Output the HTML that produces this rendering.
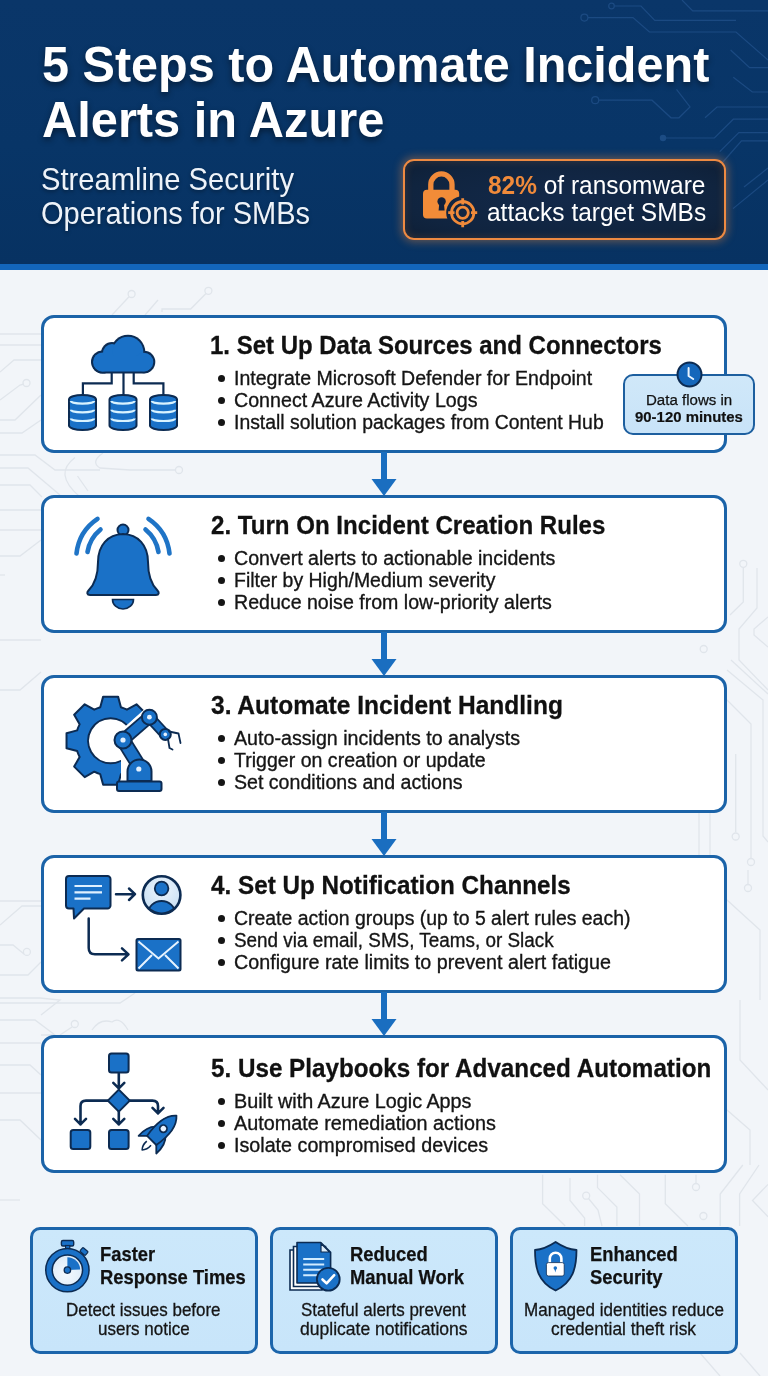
<!DOCTYPE html>
<html><head><meta charset="utf-8"><style>
html,body{margin:0;padding:0;}
body{width:768px;height:1376px;position:relative;overflow:hidden;background:#f2f5f9;font-family:"Liberation Sans", sans-serif;}
.t{position:absolute;line-height:0;white-space:nowrap;transform-origin:0 0;}
.abs{position:absolute;}
#hdr{position:absolute;left:0;top:0;width:768px;height:264px;background:linear-gradient(180deg,#0a3669 0%,#083567 55%,#073262 100%);}
#stripe{position:absolute;left:0;top:264px;width:768px;height:6px;background:#1366bb;}
.card{position:absolute;left:41px;width:680px;border:3px solid #1b63a8;border-radius:13px;background:#fff;}
.shaft{position:absolute;left:381px;width:6px;background:#1a6ec0;}
.dot{position:absolute;width:7px;height:7px;border-radius:50%;background:#151515;}
#badge{position:absolute;left:623px;top:374px;width:128px;height:56.5px;border:2.5px solid #1d5f9f;border-radius:10px;background:linear-gradient(180deg,#d0e8f9,#c8e3f8);}
.bcard{position:absolute;top:1227px;width:222px;height:120.5px;border:3px solid #1c65ab;border-radius:10px;background:linear-gradient(180deg,#cce8fb,#c8e5fa);}
#callout{position:absolute;left:403px;top:159px;width:318.5px;height:76.5px;border:2.6px solid #ee8a42;border-radius:11px;background:radial-gradient(ellipse at 50% 50%,#13294a 0%,#10243f 70%,#0e1f36 100%);box-shadow:0 0 9px 2px rgba(240,138,58,.4), inset 0 0 8px rgba(240,138,58,.2);}
</style></head><body>
<div id="hdr"></div><div id="stripe"></div>
<svg class="abs" style="left:0;top:0" width="768" height="264" viewBox="0 0 768 264">
<g fill="none" stroke="#2a5b98" stroke-width="1.2" opacity="0.55">
<circle cx="611.5" cy="6" r="2.8"/><path d="M614.3 6 H641 L654.8 20.3 H736"/>
<circle cx="584.4" cy="17.6" r="3.5"/><path d="M588 17.6 H633 L649.4 32 H736 L768 60"/>
<path d="M682 0 L692.7 10.8 H768"/>
<path d="M730.6 50 L749.6 67.7 H768"/>
<path d="M733.3 77.2 L752.3 92 H768"/>
<circle cx="595.2" cy="100.2" r="3.5"/><path d="M598.7 100.2 H652 L671 117.8 H679 L690 107 L676.5 89.4"/>
<path d="M705 117.8 L717 107 H768"/>
<path d="M666 138 H714.4 L733.3 119.2 H768"/>
<path d="M719.8 151.7 L738.8 132.7 H768"/>
<path d="M722.5 162.5 L741.5 140.8 H768"/>
<path d="M744 187 L768 168"/>
<path d="M733 208.6 L768 180"/>
</g>
<circle cx="663" cy="138" r="3.2" fill="#2a5b98" opacity="0.6"/>
</svg>
<div class="t" style="left:42.04px;top:64.88px;font-size:49.42px;font-weight:700;color:#fff;transform:scaleX(0.9829);text-shadow:0 3px 6px rgba(0,0,0,.45);">5 Steps to Automate Incident</div>
<div class="t" style="left:41.54px;top:119.68px;font-size:49.42px;font-weight:700;color:#fff;transform:scaleX(0.9870);text-shadow:0 3px 6px rgba(0,0,0,.45);">Alerts in Azure</div>
<div class="t" style="left:41.44px;top:178.92px;font-size:30.52px;font-weight:400;color:#eef3f9;transform:scaleX(0.9562);text-shadow:0 2px 4px rgba(0,0,0,.35);">Streamline Security</div>
<div class="t" style="left:41.05px;top:212.62px;font-size:30.52px;font-weight:400;color:#eef3f9;transform:scaleX(0.9500);text-shadow:0 2px 4px rgba(0,0,0,.35);">Operations for SMBs</div>
<div id="callout"></div>
<svg class="abs" style="left:400px;top:150px" width="90" height="100" viewBox="400 150 90 100">
<defs><mask id="lm"><rect x="400" y="150" width="90" height="100" fill="#fff"/><circle cx="462.7" cy="212.7" r="16.5" fill="#000"/></mask></defs>
<g mask="url(#lm)">
<path d="M430.8 190 V184.5 A10.6 10.6 0 0 1 452 184.5 V190" fill="none" stroke="#f08a3a" stroke-width="5.3"/>
<rect x="423" y="189.8" width="36.2" height="28.8" rx="4" fill="#f28c38"/>
<circle cx="441.6" cy="201.5" r="4.2" fill="#10203c"/>
<path d="M439.4 202 L438.6 210.5 H444.6 L443.8 202 Z" fill="#10203c"/>
</g>
<g fill="none" stroke="#f08a3a" stroke-width="2.8">
<circle cx="462.7" cy="212.7" r="11.2"/>
<circle cx="462.7" cy="212.7" r="5.6"/>
<path d="M462.7 198.2 V204.5 M462.7 221 V227.2 M448.2 212.7 H454.5 M471 212.7 H477.2"/>
</g>
</svg>
<div class="t" style="left:488.17px;top:184.93px;font-size:26.16px;color:#fff;transform:scaleX(0.9346)"><b style="color:#f08a3a">82%</b> of ransomware</div>
<div class="t" style="left:487.32px;top:212.43px;font-size:26.16px;font-weight:400;color:#fff;transform:scaleX(0.9364);">attacks target SMBs</div>
<svg class="abs" style="left:0;top:270px" width="768" height="1106" viewBox="0 270 768 1106">
<g fill="none" stroke="#e0e5eb" stroke-width="1.3">
<!-- left margin -->
<path d="M0 334 H41"/><path d="M0 345 H41"/>
<path d="M0 372 L14 360 H41"/><path d="M0 400 L20 385 L24 384"/><circle cx="26.5" cy="383" r="3.5"/>
<path d="M0 420 H15 L41 395"/><path d="M0 433 H22 L41 420"/>
<path d="M0 455 H35 L55 470 H100"/><path d="M0 468 H28 L60 495"/>
<path d="M0 485 H30 L42 497"/>
<path d="M0 510 H48 L75 530"/><path d="M0 530 H41"/><path d="M0 556 H20 L41 540"/>
<path d="M0 575 H5"/>
<path d="M0 640 H41"/><path d="M0 690 H20 L41 672"/>
<path d="M0 901 H41"/><path d="M0 925 L22 906 H41"/>
<path d="M0 945 L13 945 L24 954"/><circle cx="26.9" cy="951.9" r="3.5"/>
<path d="M0 975 H28 L41 962"/><path d="M0 998 H40 L60 1000 L41 1015"/>
<path d="M0 1003 H120 L135 993"/><path d="M0 1020 H35 L55 1035 H41"/>
<circle cx="74.8" cy="1024" r="3.5"/><path d="M72 1027 L60 1035"/>
<path d="M92 1030 Q100 1018 112 1022 Q120 1016 128 1030"/>
<path d="M0 1043 H41"/><path d="M0 1065 H30 L41 1075"/><path d="M0 1093 H41"/>
<path d="M0 1120 H20 L41 1140"/><path 
d="M0 1200 H20"/>
<!-- top gap -->
<circle cx="131.6" cy="294" r="3.5"/><path d="M129 296.8 L112 315"/>
<path d="M158 300 L145 315"/>
<path d="M162 312 V309 H190.7 L206 293.5"/><circle cx="208.4" cy="290.8" r="3.5"/>
<!-- gap 1-2 -->
<path d="M75 457.5 Q64 466 65 475 Q66 485 80 497"/>
<path d="M103 453 Q90 462 100 468 L130 470 H175.5"/><circle cx="179" cy="470" r="3.5"/>
<path d="M77.5 476 L88 491"/>
<!-- right margin -->
<path d="M743.3 568 V602 L730 615"/><circle cx="743.3" cy="563.8" r="3.5"/>
<path d="M757 568 V608 L739 629 V660 L768 690"/>
<path d="M768 617 L754 629 V635 L768 647"/>
<path d="M731 660 L768 694"/><path d="M727 670 L763 700 V836 L768 842"/>
<path d="M727 700 L751 724 V858"/><circle cx="751" cy="862" r="3.5"/>
<path d="M735.7 754 V832"/><circle cx="735.7" cy="836.5" r="3.5"/>
<circle cx="703.7" cy="649" r="3.5"/>
<path d="M699 812 V855"/><path d="M710 812 V855"/>
<path d="M748 870 V884"/><circle cx="748" cy="888" r="3.5"/>
<path d="M727 900 L760 930 V1000"/><path d="M740 1000 V1060 L768 1090"/>
<path d="M542.6 1174.7 V1203.7 L565.2 1226"/>
<path d="M570 1178 V1200.5 L584.6 1218 V1226"/>
<circle cx="586.2" cy="1195.7" r="3.5"/><path d="M588.5 1198.5 L598 1210 L602 1226"/>
<path d="M597.5 1174.7 V1187.6 L616.9 1207 V1226"/>
<path d="M620 1174.7 L639.5 1194 V1226"/>
<path d="M665.3 1174.7 V1203.7 L687.9 1226"/>
<path d="M696 1174.7 V1183.5"/><circle cx="696" cy="1187" r="3.5"/>
<circle cx="703.4" cy="1216" r="3.5"/>
<path d="M742.8 1165 L720.2 1194 V1226"/>
<path d="M759 1165 L739.6 1194 V1226"/>
<path d="M768 1184.4 L752.5 1200.5 L768 1216.7"/>
<path d="M727 1110 L750 1130 V1165"/>
<!-- bottom right -->
<path d="M700 1353 L720 1376"/><path d="M740 1353 L760 1376"/>
</g>
</svg>

<div class="card" style="top:315px;height:131.5px"></div>
<div class="shaft" style="top:451.5px;height:28.5px"></div>
<svg class="abs" style="left:371px;top:478.5px" width="26" height="17" viewBox="0 0 26 17"><path d="M0.5 0 H25.5 L13 17 Z" fill="#1a6ec0"/></svg>
<div class="t" style="left:210.26px;top:345.23px;font-size:26.45px;font-weight:700;color:#111;transform:scaleX(0.9073);-webkit-text-stroke:0.3px #111;">1. Set Up Data Sources and Connectors</div>
<div class="dot" style="left:218.4px;top:374.79999999999995px"></div>
<div class="t" style="left:233.96px;top:377.70px;font-size:20.79px;font-weight:400;color:#151515;transform:scaleX(0.9395);-webkit-text-stroke:0.35px #151515;">Integrate Microsoft Defender for Endpoint</div>
<div class="dot" style="left:218.4px;top:396.94999999999993px"></div>
<div class="t" style="left:233.96px;top:399.85px;font-size:20.79px;font-weight:400;color:#151515;transform:scaleX(0.9453);-webkit-text-stroke:0.35px #151515;">Connect Azure Activity Logs</div>
<div class="dot" style="left:218.4px;top:419.09999999999997px"></div>
<div class="t" style="left:233.96px;top:422.00px;font-size:20.79px;font-weight:400;color:#151515;transform:scaleX(0.9330);-webkit-text-stroke:0.35px #151515;">Install solution packages from Content Hub</div>
<div class="card" style="top:495px;height:131.5px"></div>
<div class="shaft" style="top:631.5px;height:28.5px"></div>
<svg class="abs" style="left:371px;top:658.5px" width="26" height="17" viewBox="0 0 26 17"><path d="M0.5 0 H25.5 L13 17 Z" fill="#1a6ec0"/></svg>
<div class="t" style="left:210.98px;top:525.23px;font-size:26.45px;font-weight:700;color:#111;transform:scaleX(0.9112);-webkit-text-stroke:0.3px #111;">2. Turn On Incident Creation Rules</div>
<div class="dot" style="left:218.4px;top:554.8px"></div>
<div class="t" style="left:233.96px;top:557.70px;font-size:20.79px;font-weight:400;color:#151515;transform:scaleX(0.9429);-webkit-text-stroke:0.35px #151515;">Convert alerts to actionable incidents</div>
<div class="dot" style="left:218.4px;top:576.9499999999999px"></div>
<div class="t" style="left:233.96px;top:579.85px;font-size:20.79px;font-weight:400;color:#151515;transform:scaleX(0.9355);-webkit-text-stroke:0.35px #151515;">Filter by High/Medium severity</div>
<div class="dot" style="left:218.4px;top:599.0999999999999px"></div>
<div class="t" style="left:233.96px;top:602.00px;font-size:20.79px;font-weight:400;color:#151515;transform:scaleX(0.9427);-webkit-text-stroke:0.35px #151515;">Reduce noise from low-priority alerts</div>
<div class="card" style="top:675px;height:131.5px"></div>
<div class="shaft" style="top:811.5px;height:28.5px"></div>
<svg class="abs" style="left:371px;top:838.5px" width="26" height="17" viewBox="0 0 26 17"><path d="M0.5 0 H25.5 L13 17 Z" fill="#1a6ec0"/></svg>
<div class="t" style="left:211.21px;top:705.23px;font-size:26.45px;font-weight:700;color:#111;transform:scaleX(0.9273);-webkit-text-stroke:0.3px #111;">3. Automate Incident Handling</div>
<div class="dot" style="left:218.4px;top:734.8px"></div>
<div class="t" style="left:233.96px;top:737.70px;font-size:20.79px;font-weight:400;color:#151515;transform:scaleX(0.9455);-webkit-text-stroke:0.35px #151515;">Auto-assign incidents to analysts</div>
<div class="dot" style="left:218.4px;top:756.9499999999999px"></div>
<div class="t" style="left:233.96px;top:759.85px;font-size:20.79px;font-weight:400;color:#151515;transform:scaleX(0.9413);-webkit-text-stroke:0.35px #151515;">Trigger on creation or update</div>
<div class="dot" style="left:218.4px;top:779.0999999999999px"></div>
<div class="t" style="left:233.96px;top:782.00px;font-size:20.79px;font-weight:400;color:#151515;transform:scaleX(0.9421);-webkit-text-stroke:0.35px #151515;">Set conditions and actions</div>
<div class="card" style="top:855px;height:131.5px"></div>
<div class="shaft" style="top:991.5px;height:28.5px"></div>
<svg class="abs" style="left:371px;top:1018.5px" width="26" height="17" viewBox="0 0 26 17"><path d="M0.5 0 H25.5 L13 17 Z" fill="#1a6ec0"/></svg>
<div class="t" style="left:211.46px;top:885.23px;font-size:26.45px;font-weight:700;color:#111;transform:scaleX(0.9173);-webkit-text-stroke:0.3px #111;">4. Set Up Notification Channels</div>
<div class="dot" style="left:218.4px;top:914.8px"></div>
<div class="t" style="left:233.96px;top:917.70px;font-size:20.79px;font-weight:400;color:#151515;transform:scaleX(0.9351);-webkit-text-stroke:0.35px #151515;">Create action groups (up to 5 alert rules each)</div>
<div class="dot" style="left:218.4px;top:936.9499999999999px"></div>
<div class="t" style="left:233.96px;top:939.85px;font-size:20.79px;font-weight:400;color:#151515;transform:scaleX(0.9083);-webkit-text-stroke:0.35px #151515;">Send via email, SMS, Teams, or Slack</div>
<div class="dot" style="left:218.4px;top:959.0999999999999px"></div>
<div class="t" style="left:233.96px;top:962.00px;font-size:20.79px;font-weight:400;color:#151515;transform:scaleX(0.9487);-webkit-text-stroke:0.35px #151515;">Configure rate limits to prevent alert fatigue</div>
<div class="card" style="top:1035px;height:131.5px"></div>
<div class="t" style="left:210.97px;top:1068.03px;font-size:26.45px;font-weight:700;color:#111;transform:scaleX(0.9162);-webkit-text-stroke:0.3px #111;">5. Use Playbooks for Advanced Automation</div>
<div class="dot" style="left:218.4px;top:1097.6000000000001px"></div>
<div class="t" style="left:233.96px;top:1100.50px;font-size:20.79px;font-weight:400;color:#151515;transform:scaleX(0.9519);-webkit-text-stroke:0.35px #151515;">Built with Azure Logic Apps</div>
<div class="dot" style="left:218.4px;top:1119.7500000000002px"></div>
<div class="t" style="left:233.96px;top:1122.65px;font-size:20.79px;font-weight:400;color:#151515;transform:scaleX(0.9522);-webkit-text-stroke:0.35px #151515;">Automate remediation actions</div>
<div class="dot" style="left:218.4px;top:1141.9px"></div>
<div class="t" style="left:233.96px;top:1144.80px;font-size:20.79px;font-weight:400;color:#151515;transform:scaleX(0.9481);-webkit-text-stroke:0.35px #151515;">Isolate compromised devices</div>
<div id="badge"></div>
<div class="t" style="left:645.80px;top:399.66px;font-size:14.83px;font-weight:400;color:#111;transform:scaleX(1.0154);-webkit-text-stroke:0.25px #111;">Data flows in</div>
<div class="t" style="left:635.35px;top:416.76px;font-size:15.12px;font-weight:700;color:#111;transform:scaleX(0.9886);-webkit-text-stroke:0.2px #111;">90-120 minutes</div>
<div class="bcard" style="left:30px"></div>
<div class="bcard" style="left:270px"></div>
<div class="bcard" style="left:510px"></div>
<div class="t" style="left:99.51px;top:1276.95px;font-size:19.62px;font-weight:700;color:#111;transform:scaleX(0.9371);-webkit-text-stroke:0.25px #111;">Response Times</div>
<div class="t" style="left:99.51px;top:1254.00px;font-size:19.62px;font-weight:700;color:#111;transform:scaleX(0.9371);-webkit-text-stroke:0.25px #111;">Faster</div>
<div class="t" style="left:349.71px;top:1254.00px;font-size:19.62px;font-weight:700;color:#111;transform:scaleX(0.9371);-webkit-text-stroke:0.25px #111;">Reduced</div>
<div class="t" style="left:349.71px;top:1276.95px;font-size:19.62px;font-weight:700;color:#111;transform:scaleX(0.9371);-webkit-text-stroke:0.25px #111;">Manual Work</div>
<div class="t" style="left:589.71px;top:1254.00px;font-size:19.62px;font-weight:700;color:#111;transform:scaleX(0.9371);-webkit-text-stroke:0.25px #111;">Enhanced</div>
<div class="t" style="left:590.45px;top:1276.95px;font-size:19.62px;font-weight:700;color:#111;transform:scaleX(0.9371);-webkit-text-stroke:0.25px #111;">Security</div>
<div class="t" style="left:66.44px;top:1309.50px;font-size:18.17px;font-weight:400;color:#151515;transform:scaleX(0.9336);-webkit-text-stroke:0.3px #151515;">Detect issues before</div>
<div class="t" style="left:97.98px;top:1329.30px;font-size:18.17px;font-weight:400;color:#151515;transform:scaleX(0.9364);-webkit-text-stroke:0.3px #151515;">users notice</div>
<div class="t" style="left:301.05px;top:1309.50px;font-size:18.17px;font-weight:400;color:#151515;transform:scaleX(0.9340);-webkit-text-stroke:0.3px #151515;">Stateful alerts prevent</div>
<div class="t" style="left:299.60px;top:1329.30px;font-size:18.17px;font-weight:400;color:#151515;transform:scaleX(0.9655);-webkit-text-stroke:0.3px #151515;">duplicate notifications</div>
<div class="t" style="left:523.94px;top:1309.50px;font-size:18.17px;font-weight:400;color:#151515;transform:scaleX(0.9385);-webkit-text-stroke:0.3px #151515;">Managed identities reduce</div>
<div class="t" style="left:551.21px;top:1329.30px;font-size:18.17px;font-weight:400;color:#151515;transform:scaleX(0.9515);-webkit-text-stroke:0.3px #151515;">credential theft risk</div>
<svg class="abs" style="left:0;top:0" width="768" height="1376" viewBox="0 0 768 1376">
<defs>
<linearGradient id="bg1" x1="0" y1="0" x2="0" y2="1"><stop offset="0" stop-color="#2078cc"/><stop offset="1" stop-color="#1565b8"/></linearGradient>
</defs>
<g stroke="#0c2b52" stroke-width="2.2" fill="none">
<path d="M123.5 370 V395 M111.7 370 V383.4 H82.9 V395 M133.7 370 V383.4 H163.4 V395"/>
</g>
<g fill="#0c2b52">
<circle cx="102.5" cy="362" r="11.5"/>
<circle cx="112" cy="353" r="11"/>
<circle cx="128" cy="352" r="17.3"/>
<circle cx="144" cy="362" r="11.3"/>
<rect x="93" y="354" width="60.5" height="19.5" rx="9.5"/>
</g>
<g fill="#1a71c7">
<circle cx="102.5" cy="362" r="9.5"/>
<circle cx="112" cy="353" r="9"/>
<circle cx="128" cy="352" r="15.3"/>
<circle cx="144" cy="362" r="9.3"/>
<rect x="95" y="356" width="56.5" height="15.5" rx="7.5"/>
</g>
<path d="M69 399.5 A13.5 4.5 0 0 1 96 399.5 V425.5 A13.5 4.5 0 0 1 69 425.5 Z" fill="#1a71c7" stroke="#0c2b52" stroke-width="2"/>
<path d="M70.8 401.0 A11.7 2.6 0 0 0 94.2 401.0" fill="none" stroke="#d9f3ff" stroke-width="2.2"/>
<path d="M70.8 409.8 A11.7 2.6 0 0 0 94.2 409.8" fill="none" stroke="#d9f3ff" stroke-width="2.2"/>
<path d="M70.8 418.40000000000003 A11.7 2.6 0 0 0 94.2 418.40000000000003" fill="none" stroke="#d9f3ff" stroke-width="2.2"/>
<path d="M109.5 399.5 A13.5 4.5 0 0 1 136.5 399.5 V425.5 A13.5 4.5 0 0 1 109.5 425.5 Z" fill="#1a71c7" stroke="#0c2b52" stroke-width="2"/>
<path d="M111.3 401.0 A11.7 2.6 0 0 0 134.7 401.0" fill="none" stroke="#d9f3ff" stroke-width="2.2"/>
<path d="M111.3 409.8 A11.7 2.6 0 0 0 134.7 409.8" fill="none" stroke="#d9f3ff" stroke-width="2.2"/>
<path d="M111.3 418.40000000000003 A11.7 2.6 0 0 0 134.7 418.40000000000003" fill="none" stroke="#d9f3ff" stroke-width="2.2"/>
<path d="M150 399.5 A13.5 4.5 0 0 1 177 399.5 V425.5 A13.5 4.5 0 0 1 150 425.5 Z" fill="#1a71c7" stroke="#0c2b52" stroke-width="2"/>
<path d="M151.8 401.0 A11.7 2.6 0 0 0 175.2 401.0" fill="none" stroke="#d9f3ff" stroke-width="2.2"/>
<path d="M151.8 409.8 A11.7 2.6 0 0 0 175.2 409.8" fill="none" stroke="#d9f3ff" stroke-width="2.2"/>
<path d="M151.8 418.40000000000003 A11.7 2.6 0 0 0 175.2 418.40000000000003" fill="none" stroke="#d9f3ff" stroke-width="2.2"/>
<g fill="none" stroke="#1f74c6" stroke-width="4.6" stroke-linecap="round">
<path d="M97.5 518.8 A48 48 0 0 0 76.5 553.5"/>
<path d="M100.5 529.5 A37 37 0 0 0 87.5 552"/>
<path d="M148.5 518.8 A48 48 0 0 1 169.5 553.5"/>
<path d="M145.5 529.5 A37 37 0 0 1 158.5 552"/>
</g>
<circle cx="123" cy="530" r="5.5" fill="#1a71c7" stroke="#0c2b52" stroke-width="2"/>
<path d="M90 595 C87 595 86.5 592.5 88.5 590.5 C95 584 98 576 98 562 C98 545 108 534.5 123 534 C138 534.5 148 545 148 562 C148 576 151 584 157.5 590.5 C159.5 592.5 159 595 156 595 Z" fill="#1a71c7" stroke="#0c2b52" stroke-width="2" stroke-linejoin="round"/>
<path d="M112.5 599.5 H133.5 A10.5 9.5 0 0 1 112.5 599.5 Z" fill="#1a71c7" stroke="#0c2b52" stroke-width="1.6"/>
<defs><mask id="gm"><rect x="0" y="0" width="768" height="1376" fill="#fff"/><path d="M118 733 L148 706 L190 706 L190 800 L121 800 L121 760 Z" fill="#000"/></mask></defs>
<g mask="url(#gm)"><path d="M100.26 707.26 L103.14 696.63 L118.06 696.63 L120.94 707.26 A35 35 0 0 1 126.93 709.74 L136.49 704.26 L147.04 714.81 L141.56 724.37 A35 35 0 0 1 144.04 730.36 L154.67 733.24 L154.67 748.16 L144.04 751.04 A35 35 0 0 1 141.56 757.03 L147.04 766.59 L136.49 777.14 L126.93 771.66 A35 35 0 0 1 120.94 774.14 L118.06 784.77 L103.14 784.77 L100.26 774.14 A35 35 0 0 1 94.27 771.66 L84.71 777.14 L74.16 766.59 L79.64 757.03 A35 35 0 0 1 77.16 751.04 L66.53 748.16 L66.53 733.24 L77.16 730.36 A35 35 0 0 1 79.64 724.37 L74.16 714.81 L84.71 704.26 L94.27 709.74 A35 35 0 0 1 100.26 707.26 Z M110.6 718.2 A22.5 22.5 0 1 0 110.61 718.2 Z" fill="#1a71c7" fill-rule="evenodd" stroke="#0c2b52" stroke-width="2" stroke-linejoin="round"/></g>
<path d="M138.5 765 L123 740" stroke="#fff" stroke-width="19"/>
<path d="M123 740 L149.4 717.2" stroke="#fff" stroke-width="17"/>
<path d="M149.4 717.2 L165.3 734.4" stroke="#fff" stroke-width="15"/>
<circle cx="123" cy="740" r="12" fill="#fff"/>
<path d="M127 781 V771 A12.5 12.5 0 0 1 152 771 V781 Z" fill="#fff" stroke="#fff" stroke-width="5"/>
<path d="M138.5 765 L123 740" stroke="#0c2b52" stroke-width="15"/>
<path d="M138.5 765 L123 740" stroke="#1a71c7" stroke-width="11.5"/>
<path d="M123 740 L149.4 717.2" stroke="#0c2b52" stroke-width="13"/>
<path d="M123 740 L149.4 717.2" stroke="#1a71c7" stroke-width="9.5"/>
<path d="M149.4 717.2 L165.3 734.4" stroke="#0c2b52" stroke-width="11"/>
<path d="M149.4 717.2 L165.3 734.4" stroke="#1a71c7" stroke-width="7.5"/>
<path d="M127.5 781 V771.5 A12 12 0 0 1 151.5 771.5 V781 Z" fill="#1a71c7" stroke="#0c2b52" stroke-width="2"/>
<rect x="117" y="781.5" width="44.5" height="9.5" rx="2" fill="#1a71c7" stroke="#0c2b52" stroke-width="2"/>
<circle cx="123" cy="740" r="8.5" fill="#1a71c7" stroke="#0c2b52" stroke-width="2"/>
<circle cx="123" cy="740" r="2.6" fill="#e6f2ff"/>
<circle cx="149.4" cy="717.2" r="7.5" fill="#1a71c7" stroke="#0c2b52" stroke-width="2"/>
<circle cx="149.4" cy="717.2" r="2.4" fill="#e6f2ff"/>
<circle cx="165.3" cy="734.4" r="5.5" fill="#1a71c7" stroke="#0c2b52" stroke-width="2"/>
<circle cx="165.3" cy="734.4" r="1.8" fill="#e6f2ff"/>
<circle cx="138.8" cy="769" r="2.6" fill="#e6f2ff"/>
<path d="M169 731.5 L178.5 733.5 L180.5 743 M168 739 L169.5 748 L172.5 749.5" fill="none" stroke="#0c2b52" stroke-width="1.8" stroke-linecap="round" stroke-linejoin="round"/>
<path d="M69 876 H107.5 A3 3 0 0 1 110.5 879 V905.5 A3 3 0 0 1 107.5 908.5 H84 L74 918.5 L73.5 908.5 H69 A3 3 0 0 1 66 905.5 V879 A3 3 0 0 1 69 876 Z" fill="#1a71c7" stroke="#0c2b52" stroke-width="2" stroke-linejoin="round"/>
<path d="M74.5 886 H102 M74.5 892.3 H102 M74.5 898.7 H90.5" stroke="#dff0ff" stroke-width="2.2"/>
<g fill="none" stroke="#0c2b52" stroke-width="2.5" stroke-linecap="round" stroke-linejoin="round">
<path d="M116 894.2 H134.5 M129 888.5 L135 894.2 L129 900"/>
<path d="M88.7 918.5 V948 Q88.7 954.3 95 954.3 H128 M122 948.3 L128.5 954.3 L122 960.3"/>
</g>
<defs><clipPath id="pc"><circle cx="161.6" cy="895" r="18"/></clipPath><radialGradient id="pg" cx="0.5" cy="0.35" r="0.7"><stop offset="0" stop-color="#eef6fd"/><stop offset="1" stop-color="#c4ddf3"/></radialGradient></defs>
<circle cx="161.6" cy="895" r="18.8" fill="url(#pg)"/>
<g clip-path="url(#pc)"><ellipse cx="161.6" cy="913.5" rx="13.5" ry="12.5" fill="#1a71c7" stroke="#0c2b52" stroke-width="1.8"/></g>
<circle cx="161.6" cy="888.5" r="6.8" fill="#1a71c7" stroke="#0c2b52" stroke-width="1.8"/>
<circle cx="161.6" cy="895" r="18.8" fill="none" stroke="#0c2b52" stroke-width="2.6"/>
<rect x="136.5" y="939" width="44" height="31.5" rx="1.5" fill="#1a71c7" stroke="#0c2b52" stroke-width="2"/>
<path d="M138.5 941.5 L158.5 958.5 L178.5 941.5 M138.5 968.5 L152 955 M178.5 968.5 L165 955" fill="none" stroke="#e6f3ff" stroke-width="2"/>
<rect x="109" y="1053.5" width="19.6" height="19" rx="2.5" fill="#1a71c7" stroke="#0c2b52" stroke-width="2"/>
<rect x="70.7" y="1130" width="19.6" height="19" rx="2.5" fill="#1a71c7" stroke="#0c2b52" stroke-width="2"/>
<rect x="109" y="1130" width="19.6" height="19" rx="2.5" fill="#1a71c7" stroke="#0c2b52" stroke-width="2"/>
<path d="M118.8 1089.6 L129.8 1100.6 L118.8 1111.6 L107.8 1100.6 Z" fill="#1a71c7" stroke="#0c2b52" stroke-width="2" stroke-linejoin="round"/>
<g fill="none" stroke="#0c2b52" stroke-width="2.6" stroke-linecap="round" stroke-linejoin="round">
<path d="M118.8 1073.5 V1088.5 M113.3 1082.8 L118.8 1088.3 L124.3 1082.8"/>
<path d="M107.8 1100.6 H86 Q80.5 1100.6 80.5 1106 V1124.5 M75 1118.8 L80.5 1124.3 L86 1118.8"/>
<path d="M118.8 1111.6 V1124.5 M113.3 1118.8 L118.8 1124.3 L124.3 1118.8"/>
<path d="M129.8 1100.6 H152.5 Q158 1100.6 158 1106 V1113.5 M152.5 1107.8 L158 1113.3 L163.5 1107.8"/>
</g>
<g transform="translate(161.6 1130.5) rotate(45)" stroke="#0c2b52" stroke-width="1.8" stroke-linejoin="round">
<path d="M-6.5 1 C-11 5 -13 12 -12.5 20 L-5.5 13 Z M6.5 1 C11 5 13 12 12.5 20 L5.5 13 Z" fill="#1a71c7"/>
<path d="M0 -21 C8 -14 9.5 -3 6.5 14 H-6.5 C-9.5 -3 -8 -14 0 -21 Z" fill="#1a71c7"/>
<circle cx="0" cy="-2.5" r="3.6" fill="#eaf4ff"/>
<path d="M-3 18 Q-3.5 24 0 27.5 Q3.5 24 3 18" fill="none" stroke-width="1.6"/>
</g>
<circle cx="689.5" cy="374.5" r="12" fill="#1567bb" stroke="#0c2b52" stroke-width="2"/>
<path d="M688.6 368 V376 L693.2 379" fill="none" stroke="#e8f4ff" stroke-width="2" stroke-linecap="round" stroke-linejoin="round"/>
<rect x="61.4" y="1240.5" width="12.3" height="5.5" rx="1.5" fill="#1a71c7" stroke="#0c2b52" stroke-width="1.4"/>
<rect x="65.6" y="1245.5" width="4.2" height="4.5" fill="#1a71c7" stroke="#0c2b52" stroke-width="1.2"/>
<rect x="-3.5" y="-2.5" width="7" height="5" rx="1" transform="translate(84 1251.5) rotate(40)" fill="#1a71c7" stroke="#0c2b52" stroke-width="1.2"/>
<defs><radialGradient id="sg" cx="0.45" cy="0.6" r="0.6"><stop offset="0" stop-color="#f4f9fe"/><stop offset="1" stop-color="#d9e9f7"/></radialGradient></defs>
<circle cx="67.4" cy="1270.1" r="18.4" fill="url(#sg)" stroke="#0c2b52" stroke-width="8"/>
<circle cx="67.4" cy="1270.1" r="18.4" fill="none" stroke="#1a71c7" stroke-width="5"/>
<path d="M67.4 1270.1 V1257.3 A12.8 12.8 0 0 1 80.2 1269.5 Z" fill="#1a71c7"/>
<circle cx="67.4" cy="1270.1" r="3.2" fill="#1a71c7" stroke="#0c2b52" stroke-width="1.3"/>
<path d="M290 1250 H322 V1290 H290 Z" fill="#fff" stroke="#0c2b52" stroke-width="1.6"/>
<path d="M293.5 1246.5 H325.5 V1286.5 H293.5 Z" fill="#fff" stroke="#0c2b52" stroke-width="1.6"/>
<path d="M297 1242.5 H320.8 L330.6 1252.3 V1283 H297 Z" fill="#1a71c7" stroke="#0c2b52" stroke-width="1.6" stroke-linejoin="round"/>
<path d="M321 1243.5 V1252 H329.5 Z" fill="#dfeefb" stroke="#0c2b52" stroke-width="1.2" stroke-linejoin="round"/>
<path d="M303.2 1259 H324.2 M303.2 1264.4 H324.2 M303.2 1269.8 H322 M303.2 1275.2 H318" stroke="#d2ecff" stroke-width="2"/>
<circle cx="328.3" cy="1279.2" r="11.4" fill="#1a71c7" stroke="#0c2b52" stroke-width="1.8"/>
<path d="M322.5 1279.5 L326.6 1283.4 L334.2 1275.2" fill="none" stroke="#fff" stroke-width="2.6" stroke-linecap="round" stroke-linejoin="round"/>
<path d="M555.6 1242 C548 1247 542 1249.5 535 1250 C535 1268 538 1282 555.6 1290.5 C573 1282 576.5 1268 576.5 1250 C569 1249.5 563 1247 555.6 1242 Z" fill="#1a71c7" stroke="#0c2b52" stroke-width="1.8" stroke-linejoin="round"/>
<path d="M549.8 1263 V1258.5 A5.8 5.8 0 0 1 561.4 1258.5 V1263" fill="none" stroke="#fff" stroke-width="2.6"/>
<rect x="546.4" y="1262.6" width="17.8" height="13.4" rx="2" fill="#fff" stroke="#0c2b52" stroke-width="0.8"/>
<circle cx="555.3" cy="1268" r="1.8" fill="#1a71c7"/><path d="M554.3 1268.5 L555.3 1272.5 L556.3 1268.5 Z" fill="#1a71c7"/>
</svg>
</body></html>
